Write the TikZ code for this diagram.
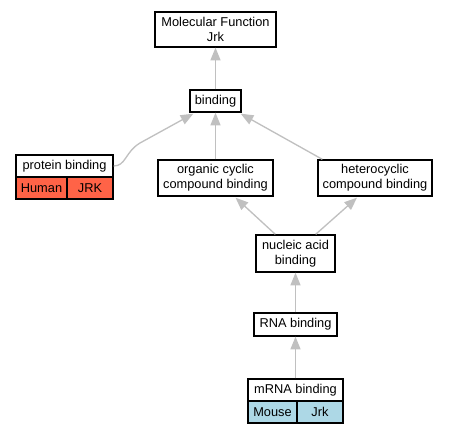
\documentclass[tikz,border=0pt]{standalone}
\usepackage{fontspec}
\setmainfont{Liberation Sans}
\usetikzlibrary{arrows.meta,calc}
\definecolor{edgegray}{HTML}{C0C0C0}
\definecolor{humanred}{HTML}{FF6347}
\definecolor{mouseblue}{HTML}{ADD8E6}
\tikzset{
  term/.style={draw=black,line width=1pt,fill=white,inner sep=0pt,align=center,
    font=\fontsize{9.6pt}{11.25pt}\selectfont},
  cell/.style={term},
  edge/.style={draw=edgegray,line width=1pt,-{Triangle[length=9.5pt,width=7.5pt]}},
}
\begin{document}
\begin{tikzpicture}[x=0.75pt,y=-0.75pt]
\useasboundingbox (0,0) rectangle (449,435);
% nodes
\node[term,minimum width=90.75pt,minimum height=26.25pt] (mf) at (215.5,29.5) {Molecular Function\\Jrk};
\node[term,minimum width=38.25pt,minimum height=16.5pt] (bind) at (215.5,101) {binding};
\node[term,minimum width=72.75pt,minimum height=16.5pt] (pb) at (64.5,166) {protein binding};
\node[cell,fill=humanred,minimum width=38.25pt,minimum height=16.5pt] (pbh) at (41.5,188) {Human};
\node[cell,fill=humanred,minimum width=34.5pt,minimum height=16.5pt] (pbj) at (90,188) {JRK};
\node[term,minimum width=86.25pt,minimum height=27pt] (org) at (215.5,178) {organic cyclic\\compound binding};
\node[term,minimum width=85.5pt,minimum height=27pt] (het) at (375,178) {heterocyclic\\compound binding};
\node[term,minimum width=59.25pt,minimum height=27.75pt] (nuc) at (295.5,253.5) {nucleic acid\\binding};
\node[term,minimum width=62.25pt,minimum height=17.25pt] (rna) at (295.5,324.5) {RNA binding};
\node[term,minimum width=71.25pt,minimum height=16.5pt] (mrna) at (295.5,390) {mRNA binding};
\node[cell,fill=mouseblue,minimum width=36.75pt,minimum height=16.5pt] (mm) at (272.5,412) {Mouse};
\node[cell,fill=mouseblue,minimum width=34.5pt,minimum height=16.5pt] (mj) at (320,412) {Jrk};
% edges
\draw[edge] (bind.north) -- (mf.south);
\draw[edge] (org.north) -- (bind.south);
\draw[edge] ($(het.north west)+(5,0)$) -- ($(bind.south east)+(-1,1)$);
\draw[edge] (pb.east) .. controls (126,166) and (125,152) .. (140,143) -- ($(bind.south west)+(4,1)$);
\draw[edge] ($(nuc.north west)+(20,0)$) -- ($(org.south)+(20,1)$);
\draw[edge] ($(nuc.north east)+(-20,0)$) -- ($(het.south)+(-18,1)$);
\draw[edge] (rna.north) -- (nuc.south);
\draw[edge] (mrna.north) -- (rna.south);
\end{tikzpicture}
\end{document}
